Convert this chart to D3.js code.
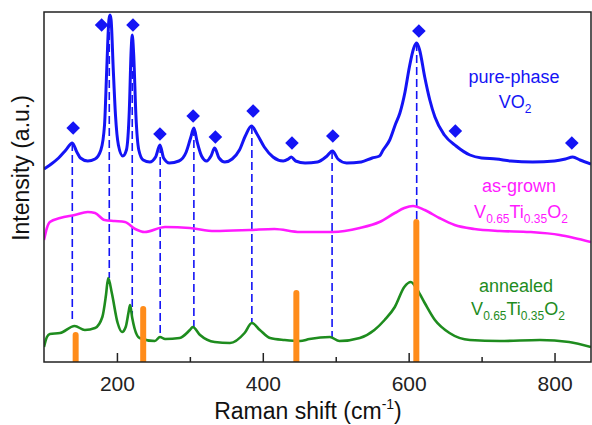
<!DOCTYPE html>
<html>
<head>
<meta charset="utf-8">
<script src="https://cdn.jsdelivr.net/npm/d3@7"></script>
<style>
  html, body { margin: 0; padding: 0; background: #fff; }
  svg { display: block; font-family: "Liberation Sans", Arial, sans-serif; }
</style>
</head>
<body>
<svg id="chart" width="592" height="425"></svg>
<script>
// ---- Data (Raman shift in cm^-1, intensity in arbitrary units) ----
const pureVO2 = [
  [100,193],[110,198],[120,204],[130,212],[138.8,219],[145,210],[150,204],[160,201],[170,203],
  [178,212],[183,237],[186,292],[189,342],[190.5,347],[192,342],[195,292],[198,247],[202,217],
  [208,206],[213,212],[217,252],[219.5,312],[221,327],[223,307],[226,247],[230,212],[236,202],
  [245,200],[253,205],[259,217],[264,204],[272,199],[285,201],[295,210],[301,224],[305.5,234],
  [310,220],[316,206],[323,201],[329,206],[334,214],[340,204],[348,200],[358,203],[368,212],
  [376,226],[384.5,236],[392,228],[402,215],[414,205],[428,201],[435,203],[439,205],[445,201],
  [458,199],[475,200],[488,206],[495.5,211],[503,203],[515,199],[535,200],[550,204],[560,206],
  [565,212],[574,222],[582,238],[588,249],[595,270],[601,295],[607,314],[611,319],[615,312],
  [622,285],[629,262],[636,245],[649,227],[665,216],[684,207],[700,204],[720,203],[740,201],
  [770,200],[800,201],[815,203],[825,205],[835,202],[850,198]
];
const asGrown = [
  [100,122],[104,134],[108,140],[122,144],[142,147],[160,150],[170,149],[183,142],[197,141],
  [211,140],[225,133],[238,130],[266,135],[300,134],[334,131],[382,132],[416,133],[451,130],
  [496,130],[533,134],[560,140],[581,149],[594,154],[606,156],[622,152],[642,144],[663,137],
  [690,133],[725,131],[766,130],[807,127],[827,124],[850,120]
];
const annealed = [
  [100,15],[104,25],[108,28],[122,29],[142,36],[156,32],[170,34],[180,45],[185,67],[188,84],
  [193,69],[201,39],[207,30],[212,35],[216,50],[218,57],[221,44],[224,34],[231,24],[252,21],
  [259,25],[266,23],[286,24],[300,32],[304,35],[314,27],[334,20],[355,19],[375,29],[385,39],
  [396,32],[410,24],[430,22],[451,21],[464,23],[492,25],[505,21],[533,24],[553,32],[567,42],
  [581,55],[594,75],[603,80],[612,72],[622,59],[636,42],[656,29],[684,22],[725,21],[780,22],
  [820,20],[850,15]
];
// VO2 mode markers (diamonds): [shift, intensity]
const diamonds = [
  [140,234],[179,337],[222,337],[259,228],[304.5,246],[335,225],[386.7,251],[440,219],
  [496,226],[614,331],[664,231],[823.7,219]
];
// dashed guide lines: [shift, top intensity, bottom intensity]
const guides = [
  [138.8,219,40],[189.5,342,84],[221,327,47],[259.3,217,25],[305.5,234,35],
  [385,236,39],[495,211,25],[611,319,77]
];
// reference (orange) bars: [shift, height]
const refBars = [[143.4,27],[236,53],[446,69],[610.5,140]];
const majorTicks = [200,400,600,800];
const minorTicks = [300,500,700];

// ---- Layout ----
const svg = d3.select("#chart");
const L = 44, R = 591, T = 12, B = 362;
const x = d3.scaleLinear().domain([100, 850]).range([L, R]);
const y = d3.scaleLinear().domain([0, 350]).range([B, T]);

const BLUE = "#1414f5", MAG = "#ff1aff", GREEN = "#1e8c1e", ORANGE = "#ff8c1a";

svg.append("clipPath").attr("id","plotclip")
  .append("rect").attr("x",L).attr("y",T).attr("width",R-L).attr("height",B-T);

const g = svg.append("g").attr("clip-path","url(#plotclip)");

// dashed guides
g.selectAll("line.guide").data(guides).join("line")
  .attr("x1", d => x(d[0])).attr("x2", d => x(d[0]))
  .attr("y1", d => y(d[1])).attr("y2", d => y(d[2]))
  .attr("stroke", BLUE).attr("stroke-width", 1.6)
  .attr("stroke-dasharray", "8,4");

const line = d3.line().x(d => x(d[0])).y(d => y(d[1])).curve(d3.curveMonotoneX);

[[annealed, GREEN, 2.6],[asGrown, MAG, 2.6],[pureVO2, BLUE, 3]].forEach(([data,c,w]) => {
  g.append("path").datum(data).attr("d", line)
    .attr("fill","none").attr("stroke",c).attr("stroke-width",w)
    .attr("stroke-linejoin","round");
});

// orange bars (rounded top)
g.selectAll("line.bar").data(refBars).join("line")
  .attr("x1", d => x(d[0])).attr("x2", d => x(d[0]))
  .attr("y1", d => y(d[1])).attr("y2", y(-5))
  .attr("stroke", ORANGE).attr("stroke-width", 6).attr("stroke-linecap","round");

// diamonds
const s = 6.8;
svg.selectAll("path.dia").data(diamonds).join("path")
  .attr("transform", d => `translate(${x(d[0])},${y(d[1])})`)
  .attr("d", `M0,${-s}L${s},0L0,${s}L${-s},0Z`)
  .attr("fill", BLUE);

// frame
svg.append("rect").attr("x",L).attr("y",T).attr("width",R-L).attr("height",B-T)
  .attr("fill","none").attr("stroke","#222").attr("stroke-width",1.5);

// ticks
const xAxis = d3.axisBottom(x).tickValues(majorTicks).tickSizeInner(-9).tickSizeOuter(0)
  .tickPadding(14).tickFormat(d3.format("d"));
const ax = svg.append("g").attr("transform",`translate(0,${B})`).call(xAxis);
ax.select(".domain").remove();
ax.selectAll(".tick line").attr("stroke","#222").attr("stroke-width",1.5);
ax.selectAll(".tick text").attr("font-size",21).attr("fill","#222")
  .attr("font-family",'"Liberation Sans", Arial, sans-serif');
const axm = svg.append("g").attr("transform",`translate(0,${B})`)
  .call(d3.axisBottom(x).tickValues(minorTicks).tickSizeInner(-5).tickSizeOuter(0).tickFormat(""));
axm.select(".domain").remove();
axm.selectAll(".tick line").attr("stroke","#222").attr("stroke-width",1.5);

// axis titles
const xt = svg.append("text").attr("x",308).attr("y",419).attr("text-anchor","middle")
  .attr("font-size",23).attr("fill","#111");
xt.append("tspan").text("Raman shift (cm");
xt.append("tspan").attr("font-size",14).attr("dy",-10).text("-1");
xt.append("tspan").attr("dy",10).text(")");

svg.append("text").attr("transform","translate(29,168) rotate(-90)")
  .attr("text-anchor","middle").attr("font-size",23).attr("fill","#111")
  .text("Intensity (a.u.)");

// series labels
function formula(xc, yb, color) {
  const t = svg.append("text").attr("x",xc).attr("y",yb).attr("text-anchor","middle")
    .attr("font-size",18).attr("fill",color);
  t.append("tspan").text("V");
  t.append("tspan").attr("font-size",12).attr("dy",5).text("0.65");
  t.append("tspan").attr("dy",-5).text("Ti");
  t.append("tspan").attr("font-size",12).attr("dy",5).text("0.35");
  t.append("tspan").attr("dy",-5).text("O");
  t.append("tspan").attr("font-size",12).attr("dy",5).text("2");
}
svg.append("text").attr("x",514).attr("y",83).attr("text-anchor","middle")
  .attr("font-size",18).attr("fill",BLUE).text("pure-phase");
const vo = svg.append("text").attr("x",515).attr("y",108).attr("text-anchor","middle")
  .attr("font-size",18).attr("fill",BLUE);
vo.append("tspan").text("VO");
vo.append("tspan").attr("font-size",12).attr("dy",5).text("2");

svg.append("text").attr("x",519).attr("y",192).attr("text-anchor","middle")
  .attr("font-size",18).attr("fill",MAG).text("as-grown");
formula(521, 218, MAG);
svg.append("text").attr("x",516).attr("y",292).attr("text-anchor","middle")
  .attr("font-size",18).attr("fill",GREEN).text("annealed");
formula(518, 315, GREEN);
</script>
</body>
</html>
